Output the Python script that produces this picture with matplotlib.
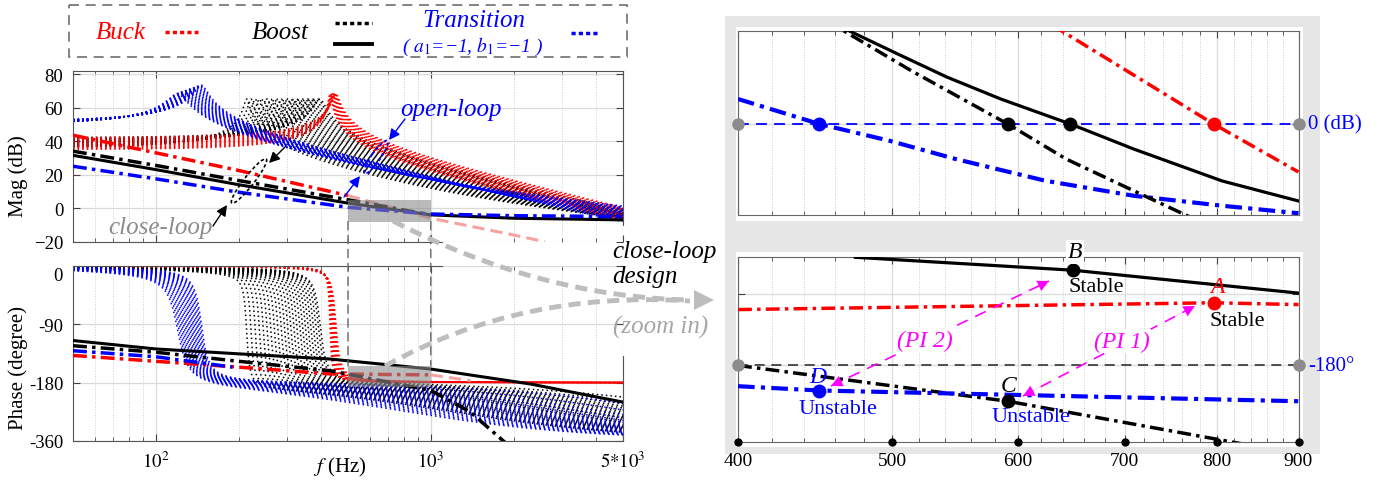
import numpy as np
import matplotlib.pyplot as plt
import matplotlib.transforms as mtransforms
from matplotlib.patches import Rectangle, Ellipse, PathPatch, Polygon, FancyArrowPatch, ConnectionPatch
from matplotlib.path import Path
from matplotlib.lines import Line2D
from matplotlib.ticker import FixedLocator, FixedFormatter, NullFormatter

plt.rcParams['font.family'] = ['Liberation Serif', 'DejaVu Serif']
plt.rcParams['mathtext.fontset'] = 'stix'

W, H = 1385, 481
RED, BLUE, BLACK, MAGENTA = '#ff0000', '#0000ff', '#000000', '#ff00ff'

# ---------- open-loop families: dc gain (dB), resonance (Hz), Q, RHP zero (Hz)
buck_k = [35.0, 35.5, 36.1, 36.6, 37.2, 37.7, 38.2, 38.8, 39.3, 39.8, 40.4, 40.9, 41.5, 42.0]
buck_fr = [430, 431.7, 433.4, 435.1, 436.8, 438.5, 440.2, 441.9, 443.6, 445.3, 447, 448.7, 450.4, 452]
buck_q = [44.7, 42.2, 39.4, 37.2, 34.7, 32.7, 30.9, 28.8, 27.2, 25.7, 24.0, 22.6, 21.1, 20.0]

boost_k = [36.0, 36.25, 36.5, 36.75, 37.0, 37.25, 37.5, 37.75, 38.0, 38.25, 38.5, 38.75,
           39.0, 39.25, 39.5, 39.75, 40.0, 40.25, 40.5, 40.75, 41.0, 41.25, 41.5, 42.0]
boost_fr = [214, 222, 230, 238, 246, 254, 262, 270, 278, 286, 294, 302,
            310, 318, 326, 334, 342, 350, 358, 366, 374, 382, 390, 396]
boost_q = [28, 27.3, 26.6, 25.8, 25.1, 24.4, 23.7, 23.0, 22.4, 21.8, 21.1, 20.6,
           20.0, 19.4, 18.8, 18.3, 17.8, 17.3, 16.8, 16.3, 15.8, 15.4, 15.0, 14.1]
boost_fz = [1200, 1300, 1400, 1520, 1650, 1800, 1950, 2120, 2300, 2500, 2720, 2950,
            3200, 3500, 3800, 4150, 4550, 5000, 5500, 6100, 6800, 7700, 9000, 12000]

trans_k = [50.0, 50.1, 50.2, 50.3, 50.4, 50.5, 50.6, 50.7, 50.8, 50.9,
           51.0, 51.1, 51.2, 51.3, 51.4, 51.5, 51.6, 51.7, 51.8, 51.9]
trans_fr = [120, 121.4, 122.8, 124.2, 125.6, 127, 128.4, 129.8, 131.2, 132.6,
            134, 135.4, 136.8, 138.2, 139.6, 141, 142.4, 143.8, 145.2, 146.6]
trans_q = [8.0, 8.2, 8.4, 8.6, 8.8, 9.0, 9.2, 9.4, 9.6, 9.8,
           10.0, 10.2, 10.4, 10.6, 10.8, 11.0, 11.2, 11.4, 11.6, 11.8]
trans_fz = [800, 870, 950, 1030, 1120, 1220, 1330, 1450, 1580, 1720,
            1880, 2050, 2250, 2480, 2750, 3100, 3600, 4300, 5500, 8000]

# ---------- close-loop curves, left panel (Hz, dB) and (Hz, degree)
cl_f_buck = [50, 100, 200, 500]
cl_m_buck = [43.5, 33.0, 22.5, 7.5]
cl_f_buck_fade = [500, 1000, 2000, 2600]
cl_m_buck_fade = [7.5, -6.0, -16.0, -20.0]
cl_f_boost_dd = [50, 100, 200, 500, 1000]
cl_m_boost_dd = [34.0, 25.5, 16.5, 5.0, -4.0]
cl_f_boost = [50, 100, 200, 500, 1000, 2000, 5000]
cl_m_boost = [31.5, 23.0, 14.0, 3.0, -4.0, -6.0, -7.0]
cl_f_trans = [50, 100, 200, 500, 1000, 2000, 5000]
cl_m_trans = [25.0, 17.5, 9.5, 0.5, -3.5, -4.5, -5.0]

clp_f_boost = [50, 100, 200, 430, 1000, 2300, 5000]
clp_p_boost = [-115, -128, -135.5, -143.5, -159, -182, -210]
clp_f_boost_dd = [50, 100, 200, 430, 1000, 1390, 1860]
clp_p_boost_dd = [-123, -133, -147, -161.5, -192, -225, -272]
clp_f_trans = [50, 100, 190]
clp_p_trans = [-130.7, -140, -156]
clp_f_buck = [50, 100, 200, 430, 1000]
clp_p_buck = [-138, -147, -156, -166.5, -168]
clp_f_buck_fade = [1000, 1400]
clp_p_buck_fade = [-168, -177]

zoom_f = [500, 1000]
zoom_mag = [-8, 5]
zoom_ph = [-187, -154]

# ---------- right panels (zoom in), Hz vs dB / degree
z_ticks = [400, 500, 600, 700, 800, 900]
zf_trans = [400, 450, 498, 548, 624, 709, 806, 900]
zm_trans = [1.0, 0.0, -0.67, -1.4, -2.27, -2.87, -3.27, -3.57]
zf_boost_dd = [455, 466, 514, 591, 643, 709, 780]
zm_boost_dd = [4.1, 3.73, 2.13, 0.0, -1.4, -2.67, -3.9]
zf_boost = [460, 470, 504, 541, 585, 647, 709, 806, 900]
zm_boost = [4.1, 3.72, 2.8, 1.88, 1.0, 0.0, -1.0, -2.28, -3.08]
zf_buck = [630, 639, 796, 900]
zm_buck = [3.9, 3.72, 0.0, -1.92]
cross_f = [450, 591, 647, 796]
cross_c = [BLUE, BLACK, BLACK, RED]

pf_boost = [474, 649, 900]
pp_boost = [-164.9, -166.7, -169.9]
pf_buck = [400, 796, 900]
pp_buck = [-172.2, -171.25, -171.5]
pf_boost_dd = [400, 591, 832]
pp_boost_dd = [-180.0, -185.0, -191.0]
pf_trans = [400, 450, 900]
pp_trans = [-182.9, -183.5, -185.0]
pt_f = [796, 649, 591, 450]
pt_p = [-171.25, -166.7, -185.0, -183.5]
pt_c = [RED, BLACK, BLACK, BLUE]


def open_loop(f, k_db, fr, q, fz=None):
    x = f / fr
    mag = k_db - 20 * np.log10(np.abs(1 - x ** 2 + 1j * x / q))
    ph = -np.degrees(np.arctan2(x / q, 1 - x ** 2))
    if fz is not None:
        mag = mag + 10 * np.log10(1 + (f / fz) ** 2)
        ph = ph - np.degrees(np.arctan(f / fz))
    return mag, ph


fig = plt.figure(figsize=(W / 100, H / 100), dpi=100)
px = mtransforms.Affine2D().scale(1 / W, -1 / H).translate(0, 1) + fig.transFigure


def add_ax(x0, y0, x1, y1):
    return fig.add_axes([x0 / W, 1 - y1 / H, (x1 - x0) / W, (y1 - y0) / H])


def ptext(x, y, s, **kw):
    kw.setdefault('ha', 'center')
    kw.setdefault('va', 'center')
    fig.text(x, y, s, transform=px, **kw)


def arrow(p0, p1, color, scale=14, lw=1.0):
    fig.add_artist(FancyArrowPatch(p0, p1, transform=px, arrowstyle='-|>', mutation_scale=scale,
                                   color=color, lw=lw, zorder=8, shrinkA=0, shrinkB=0))


# gray frame behind the zoomed panels
fig.add_artist(Rectangle((725, 17), 595, 438, transform=px, facecolor='#e6e6e6', edgecolor='none', zorder=-2))
fig.add_artist(Rectangle((736, 28), 567, 194, transform=px, facecolor='white', edgecolor='none', zorder=-1))
fig.add_artist(Rectangle((736, 253), 567, 195, transform=px, facecolor='white', edgecolor='none', zorder=-1))

ax_mag = add_ax(73, 72, 623, 242.7)
ax_ph = add_ax(73, 267, 623, 442)
ax_tr = add_ax(738, 32, 1298.5, 216)
ax_br = add_ax(738, 258, 1298.5, 443)

for ax in (ax_mag, ax_ph):
    ax.set_xscale('log')
    ax.set_xlim(50, 5000)
    ax.tick_params(which='both', direction='in', top=True, right=True, labelsize=13.5, pad=7, colors='#444444',
                   labelcolor='black')
    ax.tick_params(which='major', length=5)
    ax.tick_params(which='minor', length=3)
    ax.grid(True, which='major', color='#d9d9d9', lw=0.9)
    ax.grid(True, which='minor', axis='x', color='#cccccc', lw=0.7, ls=':')
    for s in ax.spines.values():
        s.set_color('#555555')
    ax.set_xticks([100, 1000, 5000])

ax_mag.set_ylim(-20, 81.8)
ax_mag.set_yticks([-20, 0, 20, 40, 60, 80])
ax_mag.set_xticklabels([])
ax_mag.spines['bottom'].set_bounds(50, 1100)
ax_mag.spines['right'].set_bounds(-10, 81.8)

ax_ph.set_ylim(-270, 0)
ax_ph.set_yticks([0, -90, -180, -270])
ax_ph.set_yticklabels(['', '-90', '-180', '-360'])
ax_ph.set_xticklabels([r'$10^2$', r'$10^3$', r'$5{*}10^3$'])
ax_ph.spines['top'].set_bounds(50, 1100)
ax_ph.spines['right'].set_bounds(-270, -139)
ptext(63, 277, '0', ha='right', fontsize=13.5)

f_grid = np.logspace(np.log10(50), np.log10(5000), 3000)
dots = (0, (1, 2))
for k, fr, q, fz in zip(boost_k, boost_fr, boost_q, boost_fz):
    m, p = open_loop(f_grid, k, fr, q, fz)
    ax_mag.plot(f_grid, m, color=BLACK, lw=1.1, ls=dots, zorder=2)
    ax_ph.plot(f_grid, p, color=BLACK, lw=1.1, ls=dots, zorder=2)
for k, fr, q in zip(buck_k, buck_fr, buck_q):
    m, p = open_loop(f_grid, k, fr, q)
    ax_mag.plot(f_grid, m, color=RED, lw=1.1, ls=dots, zorder=2)
    ax_ph.plot(f_grid, p, color=RED, lw=1.1, ls=dots, zorder=2)
for k, fr, q, fz in zip(trans_k, trans_fr, trans_q, trans_fz):
    m, p = open_loop(f_grid, k, fr, q, fz)
    ax_mag.plot(f_grid, m, color=BLUE, lw=1.1, ls=dots, zorder=2)
    ax_ph.plot(f_grid, p, color=BLUE, lw=1.1, ls=dots, zorder=2)

dd = (0, (4, 1.5, 1, 1.5))
ax_mag.plot(cl_f_buck, cl_m_buck, color=RED, lw=2.5, ls=dd, zorder=3)
ax_mag.plot(cl_f_buck_fade, cl_m_buck_fade, color='#f4a3a3', lw=2.2, ls=(0, (4, 2)), zorder=3)
ax_mag.plot(cl_f_boost_dd, cl_m_boost_dd, color=BLACK, lw=2.5, ls=dd, zorder=3)
ax_mag.plot(cl_f_boost, cl_m_boost, color=BLACK, lw=2.2, zorder=3)
ax_mag.plot(cl_f_trans, cl_m_trans, color=BLUE, lw=2.5, ls=dd, zorder=3)

ax_ph.plot(clp_f_buck, clp_p_buck, color=RED, lw=2.5, ls=dd, zorder=3)
ax_ph.plot(clp_f_buck_fade, clp_p_buck_fade, color='#f4a3a3', lw=2.2, ls=(0, (4, 2)), zorder=3)
ax_ph.plot(clp_f_boost_dd, clp_p_boost_dd, color=BLACK, lw=2.5, ls=dd, zorder=3)
ax_ph.plot(clp_f_boost, clp_p_boost, color=BLACK, lw=2.2, zorder=3)
ax_ph.plot(clp_f_trans, clp_p_trans, color=BLUE, lw=2.5, ls=dd, zorder=3)

ax_mag.add_patch(Rectangle((zoom_f[0], zoom_mag[0]), zoom_f[1] - zoom_f[0], zoom_mag[1] - zoom_mag[0],
                           facecolor='#8c8c8c', alpha=0.6, edgecolor='none', zorder=4))
ax_ph.add_patch(Rectangle((zoom_f[0], zoom_ph[0]), zoom_f[1] - zoom_f[0], zoom_ph[1] - zoom_ph[0],
                          facecolor='#8c8c8c', alpha=0.6, edgecolor='none', zorder=4))
for fz_ in zoom_f:
    fig.add_artist(ConnectionPatch(xyA=(fz_, zoom_mag[0]), coordsA='data', axesA=ax_mag,
                                   xyB=(fz_, zoom_ph[1]), coordsB='data', axesB=ax_ph,
                                   color='#666666', lw=1.0, ls=(0, (6, 4)), zorder=5))

# axis titles
ptext(18, 176, 'Mag (dB)', rotation=90, fontsize=15)
ptext(18, 368, 'Phase (degree)', rotation=90, fontsize=15)
ptext(340, 467, r'$f$ (Hz)', fontsize=15)

# legend box
fig.add_artist(Rectangle((69, 6), 558, 52, transform=px, fill=False, edgecolor='#6e6e6e', lw=1.2,
                         ls=(0, (6, 4)), zorder=5))
ptext(121, 33, 'Buck', color=RED, fontsize=18, style='italic')
fig.add_artist(Line2D([165, 198], [33, 33], transform=px, color=RED, lw=2.5, ls=(0, (1.2, 0.9))))
ptext(280, 33, 'Boost', color=BLACK, fontsize=18, style='italic')
fig.add_artist(Line2D([335, 372], [24, 24], transform=px, color=BLACK, lw=2.5, ls=(0, (1.2, 0.9))))
fig.add_artist(Line2D([335, 372], [45, 45], transform=px, color=BLACK, lw=2.8))
ptext(474, 21, 'Transition', color=BLUE, fontsize=18, style='italic')
ptext(472, 47, r'( $a_1$=−1, $b_1$=−1 )', color=BLUE, fontsize=14, style='italic')
fig.add_artist(Line2D([571, 599], [34, 34], transform=px, color=BLUE, lw=2.5, ls=(0, (1.2, 0.9))))

# open-loop / close-loop markers
ptext(451, 110, 'open-loop', color=BLUE, fontsize=18, style='italic')
fig.add_artist(Ellipse((376, 158), 40, 9, angle=-55, transform=px, fill=False, edgecolor=BLUE,
                       lw=1.2, ls=(0, (2, 1.5)), zorder=7))
arrow((405, 120), (389, 141), BLUE, scale=16)
arrow((344, 198), (360, 177), BLUE, scale=16)
ptext(160, 228, 'close-loop', color='#8c8c8c', fontsize=18, style='italic')
fig.add_artist(Ellipse((249, 182), 56, 10, angle=-52, transform=px, fill=False, edgecolor=BLACK,
                       lw=1.2, ls=(0, (2, 1.5)), zorder=7))
arrow((285, 148), (269, 164), BLACK, scale=16)
arrow((213, 227), (227, 206), BLACK, scale=16)

# zoom connectors
for p0, c, p1 in [((393, 222), (540, 298), (690, 301)), ((385, 367), (522, 291), (690, 302))]:
    path = Path([p0, c, p1], [Path.MOVETO, Path.CURVE3, Path.CURVE3])
    fig.add_artist(PathPatch(path, transform=px, fill=False, edgecolor='#bdbdbd', lw=3.5,
                             ls=(0, (2.5, 1.5)), zorder=6))
fig.add_artist(Polygon([(694, 291), (714, 301), (694, 311)], closed=True, transform=px,
                       facecolor='#bdbdbd', edgecolor='none', zorder=6))
ptext(612, 252, 'close-loop', ha='left', fontsize=18, style='italic')
ptext(612, 277, 'design', ha='left', fontsize=18, style='italic')
ptext(613, 327, '(zoom in)', ha='left', color='#a6a6a6', fontsize=18, style='italic')

# ---------- right panels
for ax in (ax_tr, ax_br):
    ax.set_xscale('log')
    ax.set_xlim(400, 900)
    ax.xaxis.set_major_locator(FixedLocator(z_ticks))
    ax.xaxis.set_minor_locator(FixedLocator([v for v in range(420, 900, 20) if v % 100]))
    ax.xaxis.set_minor_formatter(NullFormatter())
    ax.tick_params(which='both', direction='in', top=True, right=True, colors='#444444', labelcolor='black')
    ax.tick_params(which='major', length=5)
    ax.tick_params(which='minor', length=3)
    ax.grid(True, which='major', color='#dddddd', lw=1.0)
    ax.grid(True, which='minor', axis='x', color='#cccccc', lw=0.7, ls=':')
    for s in ax.spines.values():
        s.set_color('#666666')

ax_tr.set_ylim(-3.64, 3.72)
ax_tr.set_yticks([0])
ax_tr.set_yticklabels([])
ax_tr.xaxis.set_major_formatter(NullFormatter())
ax_tr.plot(zf_trans, zm_trans, color=BLUE, lw=3.0, ls=dd, zorder=3)
ax_tr.plot(zf_boost_dd, zm_boost_dd, color=BLACK, lw=2.5, ls=dd, zorder=3)
ax_tr.plot(zf_boost, zm_boost, color=BLACK, lw=2.3, zorder=3)
ax_tr.plot(zf_buck, zm_buck, color=RED, lw=2.5, ls=dd, zorder=3)
ax_tr.plot([400, 900], [0, 0], color=BLUE, lw=1.3, ls=(0, (6, 4)), zorder=3)
ax_tr.plot([400, 900], [0, 0], 'o', color='#8c8c8c', ms=8, clip_on=False, zorder=5)
for f_, c_ in zip(cross_f, cross_c):
    ax_tr.plot([f_], [0], 'o', color=c_, ms=9, zorder=5)
ptext(1308, 125, '0 (dB)', ha='left', color=BLUE, fontsize=15)

ax_br.set_ylim(-190.69, -164.86)
ax_br.set_yticks([-180, -170])
ax_br.set_yticklabels([])
ax_br.xaxis.set_major_formatter(FixedFormatter([str(v) for v in z_ticks]))
ax_br.tick_params(axis='x', labelsize=14, pad=7)
ax_br.plot(pf_boost, pp_boost, color=BLACK, lw=2.3, zorder=3)
ax_br.plot(pf_buck, pp_buck, color=RED, lw=2.5, ls=dd, zorder=3)
ax_br.plot(pf_boost_dd, pp_boost_dd, color=BLACK, lw=2.5, ls=dd, zorder=3)
ax_br.plot(pf_trans, pp_trans, color=BLUE, lw=3.0, ls=dd, zorder=3)
ax_br.plot([400, 900], [-180, -180], color='#333333', lw=1.2, ls=(0, (6, 4)), zorder=3)
ax_br.plot([400, 900], [-180, -180], 'o', color='#8c8c8c', ms=8, clip_on=False, zorder=5)
ax_br.plot(z_ticks, [-190.69] * len(z_ticks), 'o', color=BLACK, ms=5, clip_on=False, zorder=5)
for f_, p_, c_ in zip(pt_f, pt_p, pt_c):
    ax_br.plot([f_], [p_], 'o', color=c_, ms=9, zorder=5)
ptext(1308, 367, '-180°', ha='left', color=BLUE, fontsize=15)

ptext(1075, 253, 'B', fontsize=17, style='italic', bbox=dict(facecolor='white', edgecolor='none', pad=1))
ptext(1096, 288, 'Stable', fontsize=16)
ptext(1217, 288, 'A', color=RED, fontsize=17, style='italic')
ptext(1237, 322, 'Stable', fontsize=16)
ptext(818, 378, 'D', color=BLUE, fontsize=17, style='italic')
ptext(838, 410, 'Unstable', color=BLUE, fontsize=16)
ptext(1009, 387, 'C', fontsize=17, style='italic')
ptext(1031, 418, 'Unstable', color=BLUE, fontsize=16)

# PI design arrows
for (a, b) in [((1023, 397), (1195, 307)), ((831, 387), (1049, 282))]:
    fig.add_artist(Line2D([a[0], b[0]], [a[1], b[1]], transform=px, color=MAGENTA, lw=1.2,
                          ls=(0, (7, 5)), zorder=7))
    arrow((a[0] + 0.12 * (b[0] - a[0]), a[1] + 0.12 * (b[1] - a[1])), a, MAGENTA, scale=20, lw=0.1)
    arrow((b[0] - 0.12 * (b[0] - a[0]), b[1] - 0.12 * (b[1] - a[1])), b, MAGENTA, scale=20, lw=0.1)
ptext(1122, 342, '(PI 1)', color=MAGENTA, fontsize=17, style='italic',
      bbox=dict(facecolor='white', edgecolor='none', pad=1), zorder=9)
ptext(925, 341, '(PI 2)', color=MAGENTA, fontsize=17, style='italic',
      bbox=dict(facecolor='white', edgecolor='none', pad=1), zorder=9)

fig.savefig('out.png', dpi=100)
